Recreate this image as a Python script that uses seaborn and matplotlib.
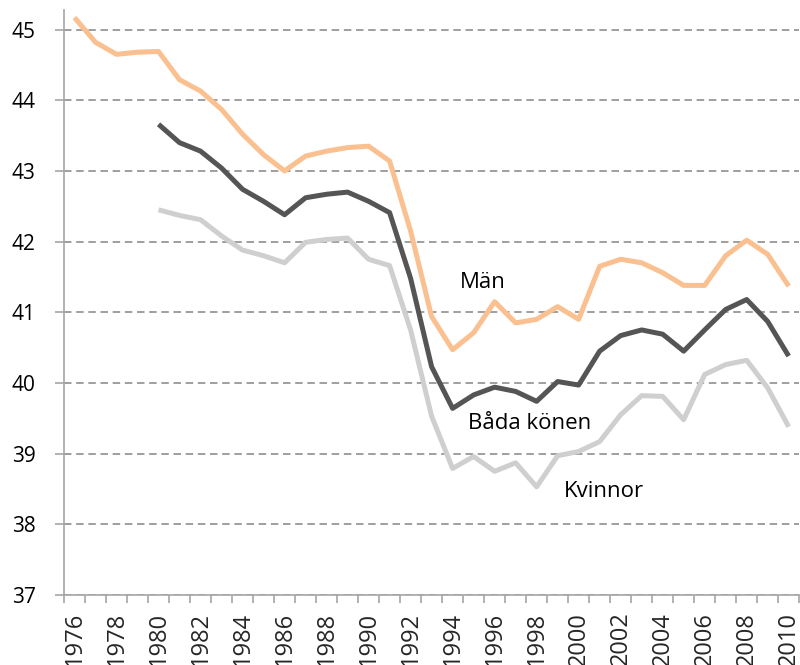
import numpy as np
import pandas as pd
import matplotlib
matplotlib.use("Agg")
import matplotlib.pyplot as plt
import seaborn as sns

# Medelålder per år
years_man = list(range(1976, 2011))
man = [45.17, 44.82, 44.65, 44.68, 44.69, 44.29, 44.13, 43.87, 43.52, 43.23,
       43.00, 43.21, 43.28, 43.33, 43.35, 43.14, 42.15, 40.94, 40.47, 40.71,
       41.15, 40.85, 40.90, 41.08, 40.90, 41.65, 41.75, 41.70, 41.56, 41.38,
       41.38, 41.80, 42.02, 41.82, 41.37]

years_other = list(range(1980, 2011))
bada = [43.66, 43.40, 43.28, 43.04, 42.74, 42.57, 42.38, 42.62, 42.67, 42.70,
        42.57, 42.41, 41.48, 40.23, 39.64, 39.83, 39.94, 39.88, 39.74, 40.02,
        39.97, 40.45, 40.67, 40.75, 40.69, 40.45, 40.75, 41.04, 41.18, 40.87,
        40.38]
kvinnor = [42.45, 42.37, 42.31, 42.08, 41.88, 41.80, 41.70, 41.99, 42.03, 42.05,
           41.75, 41.66, 40.75, 39.53, 38.79, 38.96, 38.75, 38.87, 38.53, 38.97,
           39.03, 39.17, 39.55, 39.82, 39.81, 39.48, 40.12, 40.26, 40.32, 39.93,
           39.38]

series_names = ["Män", "Båda könen", "Kvinnor"]
colors = {"Män": "#FAC090", "Båda könen": "#555555", "Kvinnor": "#CFCFCF"}

# etiketter vid linjerna: (år, ålder vid baslinjen)
label_pos = {"Män": (1995.45, 41.35), "Båda könen": (1997.67, 39.35),
             "Kvinnor": (2001.2, 38.39)}

df = pd.concat([
    pd.DataFrame({"År": years_man, "Ålder": man, "Grupp": "Män"}),
    pd.DataFrame({"År": years_other, "Ålder": bada, "Grupp": "Båda könen"}),
    pd.DataFrame({"År": years_other, "Ålder": kvinnor, "Grupp": "Kvinnor"}),
], ignore_index=True)

sns.set_style("white")
plt.rcParams["font.family"] = ["Open Sans", "DejaVu Sans"]

fig = plt.figure(figsize=(8, 6.65), dpi=100)
ax = fig.add_axes([0.08, 0.1053, 0.919, 0.88])

sns.lineplot(data=df, x="År", y="Ålder", hue="Grupp", hue_order=series_names,
             palette=colors, linewidth=3.6, legend=False, ax=ax,
             solid_joinstyle="round", solid_capstyle="butt", zorder=3)

ax.set_xlim(1975.5, 2010.5)
ax.set_ylim(37, 45.28)

# y-axel
ax.set_yticks(range(37, 46))
ax.yaxis.grid(True, color="#8f8f8f", linestyle=(0, (4.5, 2.8)), linewidth=1.2)
ax.set_axisbelow(True)
ax.tick_params(axis="y", which="major", left=True, length=6.5, width=1.2,
               color="#a6a6a6", pad=14, labelsize=15, labelcolor="black")

# x-axel: streck mellan kategorierna, etiketter vartannat år
ax.set_xticks(np.arange(1975.5, 2011, 1))
ax.set_xticklabels([])
ax.tick_params(axis="x", which="major", bottom=True, length=6, width=1.2,
               color="#a6a6a6")
ax.set_xticks(range(1976, 2011, 2), minor=True)
ax.set_xticklabels([str(y) for y in range(1976, 2011, 2)], minor=True,
                   rotation=90, fontsize=17, va="top")
ax.tick_params(axis="x", which="minor", bottom=True, length=0, pad=12)

for side in ["top", "right"]:
    ax.spines[side].set_visible(False)
for side in ["left", "bottom"]:
    ax.spines[side].set_color("#a6a6a6")
    ax.spines[side].set_linewidth(1.2)

ax.set_xlabel("")
ax.set_ylabel("")

for name in series_names:
    x, y = label_pos[name]
    ax.text(x, y, name, fontsize=16, ha="center", va="baseline", color="black")

fig.savefig("out.png", dpi=100)
